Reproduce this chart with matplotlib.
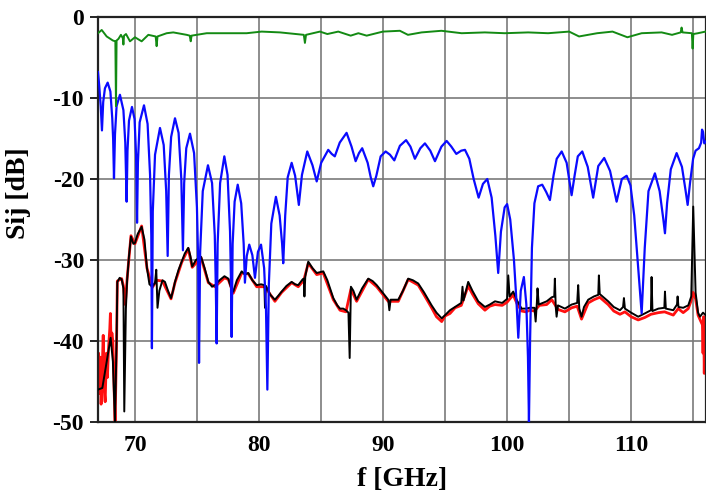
import matplotlib as mpl
mpl.use('Agg')
import matplotlib.pyplot as plt
from matplotlib.ticker import MultipleLocator

# S21 (green)
green_f = [67.0, 67.3, 67.7, 68.2, 68.4, 68.45, 68.5, 68.65, 68.85, 69.0, 69.05, 69.1,
           69.26, 69.58, 69.98, 70.52, 71.06, 71.65, 71.73, 71.8, 72.54, 73.07, 74.15,
           74.4, 74.48, 74.55, 75.77, 77.65, 78.99, 80.2, 81.68, 83.6, 83.69, 83.78,
           84.9, 85.5, 86.38, 87.38, 88.0, 88.67, 89.98, 91.35, 92.0, 93.1, 94.7, 96.33,
           98.2, 99.8, 101.7, 103.3, 105.0, 105.8, 107.26, 108.5, 109.7, 110.85, 112.46,
           113.3, 114.0, 114.07, 114.15, 114.9, 114.96, 115.02, 115.39, 116.0]
green_s = [-2.0, -1.6, -2.4, -2.9, -3.0, -11.0, -2.9, -2.7, -2.2, -2.6, -3.4, -2.3,
           -2.1, -3.0, -2.5, -3.0, -2.2, -2.4, -3.6, -2.4, -2.0, -1.9, -2.2,
           -2.3, -3.0, -2.3, -2.0, -2.0, -2.0, -1.8, -1.9, -2.2, -3.2, -2.2,
           -1.8, -2.1, -1.8, -2.3, -2.0, -2.3, -1.8, -1.7, -2.2, -1.9, -1.7, -2.0,
           -1.9, -2.0, -1.9, -2.0, -1.8, -2.4, -2.0, -1.8, -2.5, -2.0, -1.9,
           -2.2, -1.9, -1.3, -1.9, -2.0, -3.9, -2.1, -2.0, -1.8]

# S11 (blue)
blue_f = [67.0, 67.1, 67.22, 67.32, 67.42, 67.56, 67.78, 68.0, 68.15, 68.22, 68.29,
          68.37, 68.5, 68.77, 69.05, 69.2, 69.31,
          69.38, 69.5, 69.74, 69.95, 70.07, 70.15,
          70.22, 70.36, 70.71, 71.0, 71.2, 71.3, 71.35,
          71.42, 71.6, 72.0, 72.3, 72.5, 72.62,
          72.72, 72.9, 73.21, 73.5, 73.72, 73.85,
          73.95, 74.12, 74.42, 74.75, 74.98, 75.08, 75.15,
          75.24, 75.45, 75.87, 76.2, 76.42, 76.5, 76.57,
          76.65, 76.85, 77.19, 77.45, 77.65, 77.72, 77.78,
          77.86, 78.02, 78.27, 78.55, 78.75, 78.85,
          79.0, 79.2, 79.45, 79.66,
          79.9, 80.15, 80.4, 80.55, 80.66,
          80.78, 80.98, 81.35, 81.65, 81.85, 81.94,
          82.1, 82.3, 82.62, 82.9, 83.1, 83.2,
          83.45, 83.88, 84.3, 84.64, 85.0, 85.57, 85.85, 86.1, 86.5, 87.05, 87.45, 87.78,
          88.05, 88.31, 88.75, 89.0, 89.2, 89.45, 89.8, 90.2, 90.55, 90.9, 91.35, 91.85,
          92.2, 92.56, 93.0, 93.37, 93.8, 94.18, 94.7, 95.12, 95.5, 95.9, 96.3, 96.6,
          96.95, 97.3, 97.7, 98.05, 98.4, 98.75, 99.05, 99.28, 99.5, 99.8, 100.0, 100.25,
          100.55, 100.75, 100.9, 101.1, 101.35, 101.55, 101.68, 101.76, 101.85, 102.0, 102.2, 102.5,
          102.83, 103.15, 103.45, 103.75, 104.0, 104.4, 104.8, 105.05, 105.2, 105.45, 105.7, 106.06,
          106.5, 106.94, 107.35, 107.83, 108.3, 108.83, 109.25, 109.64, 109.95, 110.25, 110.55, 110.85,
          111.1, 111.4, 111.92, 112.3, 112.6, 112.73, 112.9, 113.2, 113.67, 114.1, 114.4, 114.56,
          114.75, 115.0, 115.2, 115.47, 115.65, 115.72, 115.8, 115.9, 116.0]
blue_s = [-6.8, -8.5, -11.0, -14.0, -10.5, -8.8, -8.1, -9.2, -12.5, -15.0, -19.9,
          -14.5, -11.0, -9.6, -11.5, -15.5, -22.8,
          -16.5, -12.8, -11.1, -12.6, -17.0, -25.4,
          -18.0, -13.0, -10.9, -13.2, -19.5, -27.0, -40.9,
          -24.0, -17.0, -13.7, -15.8, -21.5, -29.5,
          -19.5, -14.8, -12.5, -14.3, -20.0, -28.8,
          -20.5, -16.2, -14.4, -16.8, -23.5, -30.0, -42.7,
          -29.0, -21.5, -18.3, -20.5, -27.0, -33.0, -40.3,
          -28.0, -20.5, -17.2, -19.5, -26.5, -32.0, -39.5,
          -28.0, -22.8, -20.7, -23.0, -28.0, -32.8,
          -29.5, -28.1, -29.4, -32.2,
          -29.0, -28.1, -31.0, -36.0, -46.0,
          -33.0, -25.5, -22.2, -24.5, -28.0, -30.4,
          -24.5, -19.8, -18.0, -19.6, -22.0, -23.2,
          -19.5, -16.6, -18.3, -20.3, -18.0, -16.4, -16.9, -17.2, -15.5, -14.3, -16.0, -17.8,
          -16.8, -16.2, -18.0, -19.8, -20.9, -19.6, -17.2, -16.6, -17.0, -17.7, -15.9, -15.2,
          -16.0, -17.5, -16.2, -15.6, -16.5, -17.8, -16.0, -15.3, -16.0, -16.9, -16.5, -16.4,
          -17.5, -20.0, -22.3, -20.6, -20.0, -22.3, -27.0, -31.6, -26.5, -23.5, -23.1, -25.0,
          -30.0, -35.0, -39.6, -33.8, -32.1, -35.5, -42.0, -50.0, -40.0, -28.5, -23.0, -20.9,
          -20.7, -21.6, -22.6, -19.5, -17.5, -16.6, -18.0, -20.5, -22.0, -19.5, -17.2, -16.6,
          -18.5, -22.3, -18.4, -17.4, -19.0, -22.8, -20.0, -19.6, -20.8, -24.5, -30.5, -36.6,
          -28.5, -21.5, -19.3, -21.5, -25.0, -26.7, -23.0, -18.8, -16.8, -18.5, -21.5, -23.2,
          -20.5, -17.5, -16.5, -16.2, -15.5, -13.9, -14.2, -15.6, -15.4]

# S31 (black)
black_f = [67.0, 67.35, 67.65, 68.02, 68.2, 68.37, 68.5, 68.56, 68.75, 68.91, 69.05, 69.12,
           69.25, 69.35, 69.5, 69.66, 69.85, 69.98, 70.2, 70.52, 70.75, 70.95, 71.15, 71.38,
           71.6, 71.7, 71.8, 71.95, 72.2, 72.4, 72.65, 72.89, 73.05, 73.21, 73.5, 73.75,
           74.0, 74.28, 74.45, 74.6, 74.9, 75.31, 75.6, 75.9, 76.2, 76.44, 76.8, 77.2,
           77.51, 77.75, 77.91, 78.2, 78.59, 78.85, 79.12, 79.45, 79.8, 80.15, 80.42, 80.47,
           80.55, 80.9, 81.27, 81.55, 81.81, 82.2, 82.62, 82.9, 83.15, 83.5, 83.6, 83.65,
           83.72, 83.96, 84.3, 84.64, 84.9, 85.17, 85.5, 85.98, 86.3, 86.52, 86.78, 87.0,
           87.2, 87.3, 87.4, 87.6, 87.86, 88.3, 88.8, 89.15, 89.48, 89.95, 90.41, 90.5,
           90.6, 91.22, 91.6, 92.02, 92.4, 92.83, 93.3, 93.91, 94.3, 94.72, 95.0, 95.39,
           95.8, 96.3, 96.4, 96.48, 96.86, 97.2, 97.67, 98.21, 98.6, 99.02, 99.6, 100.0,
           100.09, 100.2, 100.49, 100.8, 101.17, 101.5, 101.84, 102.2, 102.3, 102.4, 102.45, 102.55,
           103.19, 103.6, 103.8, 103.85, 103.92, 103.99, 104.1, 104.66, 105.2, 105.65, 105.73, 105.82,
           106.0, 106.2, 106.54, 107.0, 107.35, 107.4, 107.47, 108.15, 108.6, 109.1, 109.35, 109.42,
           109.5, 110.0, 110.57, 111.1, 111.6, 111.65, 111.72, 112.2, 112.68, 112.73, 112.8, 113.4,
           113.7, 113.75, 113.82, 114.2, 114.61, 114.85, 115.01, 115.2, 115.4, 115.55, 115.8, 116.0]
black_s = [-46.0, -45.8, -43.0, -39.6, -42.5, -50.0, -40.0, -32.7, -32.2, -32.4, -33.5, -48.7,
           -36.0, -32.5, -29.5, -27.1, -28.0, -27.9, -26.8, -25.9, -27.5, -31.0, -33.0, -33.3,
           -32.8, -31.2, -35.9, -33.8, -32.5, -32.7, -33.8, -34.7, -33.8, -32.7, -31.2, -30.2,
           -29.2, -28.5, -29.5, -30.8, -30.0, -29.6, -31.0, -32.7, -33.3, -33.1, -32.5, -32.0,
           -32.3, -33.5, -33.9, -32.5, -31.4, -31.8, -31.6, -32.5, -33.1, -33.0, -33.1, -35.9,
           -33.2, -34.3, -34.9, -34.4, -33.9, -33.2, -32.7, -33.0, -33.1, -32.4, -32.3, -34.5,
           -32.0, -30.2, -31.0, -31.6, -31.5, -31.4, -32.5, -34.7, -35.6, -36.0, -36.0, -36.2,
           -36.5, -42.1, -33.3, -33.8, -34.9, -33.5, -32.3, -32.6, -33.1, -34.0, -34.9, -36.2,
           -34.9, -34.9, -33.8, -32.3, -32.5, -32.9, -34.0, -35.6, -36.5, -37.2, -36.8, -36.2,
           -35.8, -35.3, -33.3, -35.0, -32.7, -33.8, -35.1, -35.8, -35.5, -35.1, -35.3, -34.8,
           -31.9, -34.5, -33.9, -35.0, -36.0, -36.0, -35.9, -35.9, -37.6, -35.2, -33.5, -35.5,
           -35.1, -34.6, -34.5, -32.3, -35.8, -37.0, -35.6, -36.0, -35.5, -35.3, -33.1, -36.0,
           -37.0, -35.8, -34.9, -34.5, -34.3, -31.9, -34.2, -35.1, -35.8, -36.2, -35.8, -34.7,
           -36.0, -36.5, -37.0, -36.6, -36.2, -32.1, -36.3, -36.0, -35.9, -33.9, -36.0, -36.2,
           -35.5, -34.5, -35.8, -35.9, -35.6, -34.5, -23.4, -34.0, -36.5, -37.0, -36.5, -36.8]

# S41 (red)
red_f = [67.0, 67.05, 67.1, 67.18, 67.25, 67.32, 67.42, 67.5, 67.58, 67.68, 67.76, 67.85,
         67.95, 68.0, 68.06, 68.12, 68.2, 68.3, 68.38, 68.5, 68.56, 68.91, 69.05, 69.2,
         69.35, 69.66, 69.98, 70.52, 70.95, 71.38, 71.75, 72.2, 72.89, 73.21, 73.75, 74.28,
         74.6, 75.31, 75.9, 76.44, 77.2, 77.51, 77.91, 78.59, 79.12, 79.8, 80.47, 81.27,
         81.81, 82.62, 83.15, 83.6, 83.96, 84.64, 85.17, 85.98, 86.52, 87.0, 87.4, 87.86,
         88.8, 89.48, 90.41, 91.22, 92.02, 92.83, 93.3, 93.91, 94.3, 94.72, 95.0, 95.39,
         95.8, 96.3, 96.86, 97.2, 97.67, 98.21, 98.6, 99.02, 99.6, 100.0, 100.49, 100.8,
         101.17, 101.5, 101.84, 102.2, 102.6, 103.19, 103.6, 104.1, 104.66, 105.2, 105.65, 106.0,
         106.54, 107.0, 107.47, 108.15, 108.6, 109.1, 109.5, 110.0, 110.57, 111.1, 111.6, 112.2,
         112.7, 113.4, 113.8, 114.2, 114.61, 114.85, 115.0, 115.2, 115.4, 115.6, 115.75, 115.8,
         115.85, 115.9, 115.95, 116.0]
red_s = [-44.0, -41.5, -46.5, -42.0, -47.8, -44.5, -39.3, -46.0, -47.5, -41.5, -44.5, -40.9,
         -38.5, -36.6, -40.5, -39.0, -40.0, -46.0, -50.0, -40.0, -32.6, -32.3, -33.2, -35.5,
         -32.3, -27.0, -28.0, -25.8, -31.0, -33.4, -32.5, -32.6, -34.8, -32.8, -30.3, -28.6,
         -30.9, -29.7, -32.8, -33.3, -32.2, -32.4, -34.1, -31.6, -31.7, -33.3, -33.3, -35.1,
         -34.0, -32.8, -33.3, -32.5, -30.4, -31.8, -31.6, -34.9, -36.2, -36.4, -33.6, -35.1,
         -32.4, -33.3, -35.1, -35.1, -32.4, -33.1, -34.3, -35.9, -37.0, -37.6, -36.9, -36.6,
         -35.9, -35.6, -33.2, -34.2, -35.4, -36.2, -35.7, -35.5, -35.6, -35.2, -34.3, -35.4,
         -36.3, -36.4, -36.2, -36.3, -35.6, -35.5, -34.9, -36.1, -36.4, -35.9, -35.7, -37.3,
         -35.3, -34.9, -34.6, -35.5, -36.3, -36.7, -36.4, -37.0, -37.4, -37.1, -36.7, -36.5,
         -36.4, -36.8, -36.0, -36.5, -36.0, -35.0, -34.0, -34.8, -36.8, -37.5, -38.0, -41.5,
         -37.0, -44.0, -38.0, -39.0]

xticks_major = [70, 80, 90, 100, 110]
yticks = [-50, -40, -30, -20, -10, 0]

plt.rcParams['axes.unicode_minus'] = False
plt.rcParams['font.family'] = 'Liberation Serif'
plt.rcParams['font.weight'] = 'bold'

fig = plt.figure(figsize=(7.06, 4.99), dpi=100)
ax = fig.add_axes([0.1388, 0.1543, 0.8605, 0.8116])

ax.plot(red_f, red_s, color='#ff1010', lw=2.0, zorder=2)
ax.plot(black_f, black_s, color='black', lw=1.4, zorder=3)
ax.plot(blue_f, blue_s, color='#0a0aff', lw=1.6, zorder=4)
ax.plot(green_f, green_s, color='#138a13', lw=1.4, zorder=5)

ax.set_xlim(67, 116)
ax.set_ylim(-50, 0)
ax.set_xticks(xticks_major)
ax.xaxis.set_minor_locator(MultipleLocator(5))
ax.set_yticks(yticks)
ax.grid(True, which='both', color='#7a7a7a', lw=1.2)
ax.set_axisbelow(True)

ax.tick_params(axis='x', which='both', length=0, pad=9, labelsize=17)
ax.tick_params(axis='y', length=6, width=1.2, pad=4, labelsize=17)
for s in ax.spines.values():
    s.set_linewidth(1.6)
    s.set_color('#222222')

ax.set_xlabel('f [GHz]', fontsize=20, fontweight='bold', labelpad=8)
ax.set_ylabel('Sij [dB]', fontsize=20, fontweight='bold')
ax.yaxis.set_label_coords(-0.11, 0.565)

fig.savefig('out.png', dpi=100)
